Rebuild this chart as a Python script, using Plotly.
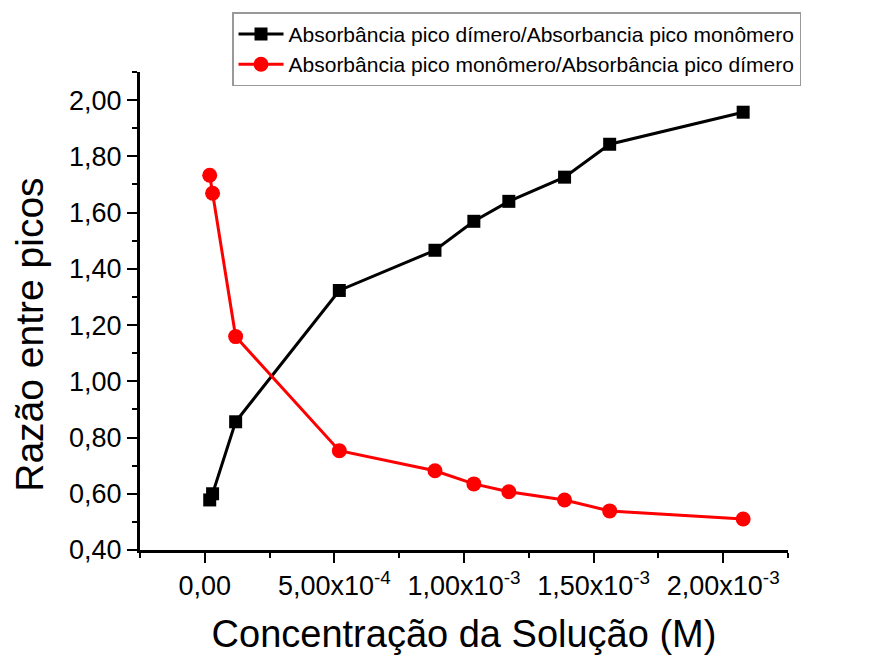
import plotly.graph_objects as go

# Concentração (M) e razões entre picos de absorbância
conc = [1.9e-5, 3.0e-5, 1.19e-4, 5.19e-4, 8.88e-4, 1.038e-3, 1.173e-3, 1.388e-3, 1.562e-3, 2.077e-3]
dimero_monomero = [0.578, 0.600, 0.856, 1.323, 1.466, 1.569, 1.640, 1.726, 1.843, 1.957]
monomero_dimero = [1.733, 1.669, 1.159, 0.753, 0.682, 0.635, 0.607, 0.578, 0.539, 0.510]

x_tickvals = [0, 5e-4, 1e-3, 1.5e-3, 2e-3]
x_ticktext = ["0,00", "5,00x10<sup>-4</sup>", "1,00x10<sup>-3</sup>",
              "1,50x10<sup>-3</sup>", "2,00x10<sup>-3</sup>"]
x_minor = [-2.5e-4, 2.5e-4, 7.5e-4, 1.25e-3, 1.75e-3, 2.25e-3]

font_family = "Arial, Liberation Sans, sans-serif"

fig = go.Figure()
fig.add_trace(go.Scatter(
    x=conc, y=dimero_monomero, mode="lines+markers",
    name="Absorbância pico dímero/Absorbancia pico monômero",
    line=dict(color="black", width=3),
    marker=dict(symbol="square", size=13, color="black"),
))
fig.add_trace(go.Scatter(
    x=conc, y=monomero_dimero, mode="lines+markers",
    name="Absorbância pico monômero/Absorbância pico dímero",
    line=dict(color="#ff0000", width=3),
    marker=dict(symbol="circle", size=15, color="#ff0000"),
))

fig.update_layout(
    width=893, height=660,
    margin=dict(l=140, r=105, t=72, b=110),
    paper_bgcolor="white", plot_bgcolor="white",
    separators=",.",
    font=dict(family=font_family, color="black"),
    showlegend=True,
    legend=dict(
        x=0.142, y=1.125, xanchor="left", yanchor="top",
        bordercolor="#999999", borderwidth=1.5, bgcolor="white",
        font=dict(size=21, family=font_family), itemwidth=45,
        tracegroupgap=0,
    ),
    xaxis=dict(
        range=[-2.5e-4, 2.25e-3],
        tickmode="array", tickvals=x_tickvals, ticktext=x_ticktext,
        ticks="outside", ticklen=10, tickwidth=2, tickcolor="black",
        minor=dict(tickmode="array", tickvals=x_minor, ticks="outside",
                   ticklen=5, tickwidth=2, tickcolor="black"),
        showline=True, linecolor="black", linewidth=3,
        showgrid=False, zeroline=False,
        tickfont=dict(size=27),
        title=dict(text="Concentração da Solução (M)", font=dict(size=38), standoff=20),
    ),
    yaxis=dict(
        range=[0.4, 2.1],
        tickmode="linear", tick0=0.4, dtick=0.2, tickformat=".2f",
        ticks="outside", ticklen=10, tickwidth=2, tickcolor="black",
        minor=dict(dtick=0.1, ticks="outside", ticklen=5, tickwidth=2, tickcolor="black"),
        showline=True, linecolor="black", linewidth=3,
        showgrid=False, zeroline=False,
        tickfont=dict(size=27),
    ),
    annotations=[dict(
        text="Razão entre picos", textangle=-90,
        xref="paper", yref="paper", x=-0.170, y=0.45,
        xanchor="center", yanchor="middle", showarrow=False,
        font=dict(size=39, family=font_family, color="black"),
    )],
)

fig.write_html("out.html")
